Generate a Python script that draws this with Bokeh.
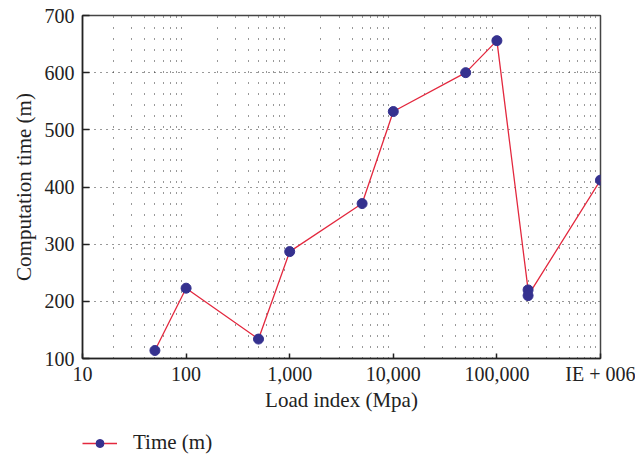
from bokeh.plotting import figure
from bokeh.models import FixedTicker, Legend, LegendItem, ColumnDataSource
from bokeh.layouts import column
from bokeh.embed import file_html
from bokeh.resources import INLINE

# data
load_index = [50, 100, 500, 1000, 5000, 10000, 50000, 100000, 200000, 200000, 1000000]
comp_time = [114, 223, 134, 287, 371, 532, 600, 656, 220, 210, 412]

x_ticks = [10, 100, 1000, 10000, 100000, 1000000]
x_tick_labels = ["10", "100", "1,000", "10,000", "100,000", "IE + 006"]
y_ticks = [100, 200, 300, 400, 500, 600, 700]
y_minor = list(range(100, 701, 20))

FONT = "Liberation Serif"
LINE_COLOR = "#e3283e"
MARKER_COLOR = "#35318f"

p = figure(width=635, height=424, x_axis_type="log",
           x_range=(10, 1000000), y_range=(100, 700),
           output_backend="svg", toolbar_location=None,
           min_border_left=82, min_border_right=35,
           min_border_top=15, min_border_bottom=66)
p.background_fill_color = "white"
p.border_fill_color = "white"
p.outline_line_color = "#444444"
p.outline_line_width = 1.5

# x axis
p.xaxis.ticker = FixedTicker(ticks=x_ticks, minor_ticks=[])
p.xaxis.major_label_overrides = {t: l for t, l in zip(x_ticks, x_tick_labels)}
p.xaxis.axis_label = "Load index (Mpa)"
p.xaxis.major_tick_in = 5
p.xaxis.major_tick_out = 0
p.xaxis.major_label_standoff = 4
p.xaxis.axis_label_standoff = 0

# y axis
p.yaxis.ticker = FixedTicker(ticks=y_ticks, minor_ticks=y_minor)
p.yaxis.axis_label = "Computation time (m)"
p.yaxis.major_tick_in = 7
p.yaxis.major_tick_out = 0
p.yaxis.minor_tick_in = 5
p.yaxis.minor_tick_out = 0
p.yaxis.major_label_standoff = 8
p.yaxis.axis_label_standoff = 6

for ax in (p.xaxis, p.yaxis):
    ax.axis_line_color = "#222222"
    ax.axis_line_width = 1.5
    ax.major_tick_line_color = "#222222"
    ax.major_tick_line_width = 1.5
    ax.minor_tick_line_color = "#222222" if ax is p.yaxis else None
    ax.major_label_text_font = FONT
    ax.major_label_text_font_size = "20px"
    ax.major_label_text_color = "#222222"
    ax.axis_label_text_font = FONT
    ax.axis_label_text_font_size = "21px"
    ax.axis_label_text_font_style = "normal"
    ax.axis_label_text_color = "#222222"

# grids: vertical dotted at minor log positions, horizontal dotted at major y
grid_x = [m * 10 ** d for d in range(1, 6) for m in range(2, 10)]
p.xgrid.ticker = FixedTicker(ticks=grid_x)
p.xgrid.grid_line_color = "#333333"
p.xgrid.grid_line_width = 1
p.xgrid.grid_line_dash = "1 10"
p.ygrid.ticker = FixedTicker(ticks=[200, 300, 400, 500, 600])
p.ygrid.grid_line_color = "#333333"
p.ygrid.grid_line_width = 1
p.ygrid.grid_line_dash = "1 5"

src = ColumnDataSource(dict(x=load_index, y=comp_time))
p.line("x", "y", source=src, line_color=LINE_COLOR, line_width=1.3)
p.scatter("x", "y", source=src, size=10, fill_color=MARKER_COLOR, line_color=MARKER_COLOR)

# legend strip below the chart
lf = figure(width=635, height=31, x_range=(0, 1), y_range=(0, 1),
            output_backend="svg", toolbar_location=None,
            x_axis_location=None, y_axis_location=None,
            min_border=0, min_border_left=0, min_border_right=0,
            min_border_top=0, min_border_bottom=0)
lf.grid.visible = False
lf.outline_line_color = None
lf.background_fill_color = "white"
lf.border_fill_color = "white"
off = ColumnDataSource(dict(x=[-10], y=[-10]))
lr = lf.line("x", "y", source=off, line_color=LINE_COLOR, line_width=1.3)
sr = lf.scatter("x", "y", source=off, size=8, fill_color=MARKER_COLOR, line_color=MARKER_COLOR)
legend = Legend(items=[LegendItem(label="Time (m)", renderers=[lr, sr])],
                location=(0, 0), padding=0, margin=0, spacing=0,
                glyph_width=35, glyph_height=20, label_standoff=16,
                border_line_alpha=0, background_fill_alpha=0,
                label_text_font=FONT, label_text_font_size="21px",
                label_text_color="#222222")
lf.add_layout(legend)

layout = column(p, lf, spacing=0)
open("out.html", "w").write(file_html(layout, INLINE))
